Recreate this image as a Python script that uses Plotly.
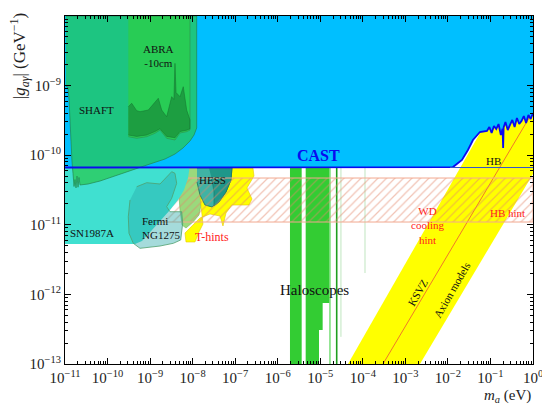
import numpy as np
import plotly.graph_objects as go

# all values are log10(m_a / eV) and log10(|g| / GeV^-1)

cast_lm = [-11.0, -1.95, -1.881, -1.670, -1.529, -1.411, -1.247, -1.082, -1.026, -0.972,
           -0.918, -0.864, -0.810, -0.756, -0.715, -0.702, -0.690, -0.648, -0.594, -0.540,
           -0.486, -0.432, -0.378, -0.324, -0.270, -0.216, -0.162, -0.108, -0.054, 0.0]
cast_lg = [-10.177, -10.177, -10.17, -10.069, -9.925, -9.782, -9.667, -9.652, -9.595, -9.681,
           -9.580, -9.624, -9.552, -9.710, -9.62, -9.897, -9.60, -9.523, -9.638, -9.566,
           -9.494, -9.595, -9.466, -9.552, -9.509, -9.437, -9.537, -9.422, -9.480, -9.394]

band_lm = [-4.349, -2.657, 0.0, 0.0, -0.800]
band_lg = [-13.0, -13.0, -10.270, -9.207, -9.207]
ksvz_lm = [-3.526, 0.0]
ksvz_lg = [-13.0, -9.37]

halo1_lm = [-5.712, -5.437, -5.437, -5.712]
halo1_lg = [-10.1, -10.1, -13.0, -13.0]
halo2_lm = [-5.343, -4.788, -4.788, -4.944, -4.944, -5.030, -5.030, -5.343]
halo2_lg = [-10.1, -10.1, -12.124, -12.124, -12.511, -12.511, -13.0, -13.0]
halo_line_lm = [-4.772, -4.614, -4.514, -3.949]
halo_line_low = [-13.0, -13.0, -12.61, -11.693]

sn_lm = [-11.0, -11.0, -9.355, -9.190, -8.955, -8.720, -8.532, -8.344, -8.203, -8.109, -8.062, -8.062]
sn_lg = [-9.925, -11.276, -11.276, -11.233, -11.075, -10.917, -10.787, -10.644, -10.500, -10.328, -10.141, -9.925]

fermi_lm = [-9.315, -9.080, -8.767, -8.610, -8.492, -8.415, -8.375, -8.492, -8.610, -8.532,
            -8.257, -8.234, -8.281, -8.455, -8.767, -9.237, -9.395, -9.496, -9.512, -9.472]
fermi_lg = [-10.453, -10.395, -10.414, -10.318, -10.237, -10.260, -10.404, -10.619, -10.740, -10.812,
            -10.812, -10.978, -11.218, -11.266, -11.305, -11.338, -11.266, -11.122, -10.884, -10.644]

ghint_lm = [-8.297, -7.827, -7.804, -7.804, -7.851, -7.992, -8.156, -8.250, -8.297, -8.321]
ghint_lg = [-10.184, -10.184, -10.500, -10.716, -10.859, -10.960, -11.046, -11.003, -10.787, -10.572]

tsmall_lm = [-8.368, -8.321, -8.344, -8.462, -8.603, -8.626, -8.532, -8.438]
tsmall_lg = [-10.342, -10.428, -10.601, -10.716, -10.787, -10.701, -10.529, -10.399]

thint_lm = [-7.874, -6.582, -6.558, -6.723, -6.605, -6.676, -7.075, -7.216, -7.287, -7.357,
            -7.592, -7.827, -8.015, -8.180, -8.156, -7.945, -7.851, -7.757, -7.804, -7.851]
thint_lg = [-10.184, -10.184, -10.299, -10.471, -10.629, -10.716, -10.716, -10.830, -11.017, -10.874,
            -10.845, -10.902, -11.017, -11.118, -11.247, -11.247, -11.103, -10.989, -10.716, -10.428]

hess_lm = [-7.898, -7.075, -7.099, -7.216, -7.381, -7.545, -7.710, -7.827, -7.898]
hess_lg = [-10.184, -10.184, -10.356, -10.529, -10.672, -10.744, -10.716, -10.572, -10.385]
hess2_lm = [-7.616, -7.075, -7.099, -7.216, -7.381, -7.498, -7.498, -7.545]
hess2_lg = [-10.184, -10.184, -10.356, -10.529, -10.672, -10.730, -10.529, -10.356]

hint_lm = [-8.838, 0.0, 0.0, -8.838]
hint_lg = [-10.328, -10.328, -10.960, -10.960]

shaft_lm = [-10.98, -7.905, -7.905, -7.968, -8.062, -8.227, -8.415, -8.650, -9.002, -9.355,
            -9.754, -10.177, -10.459, -10.600, -10.647, -10.671, -10.694, -10.718, -10.741, -10.765,
            -10.788, -10.812, -10.835, -10.859, -10.882, -10.905, -10.929, -10.98]
shaft_lg = [-8.0, -8.0, -9.609, -9.710, -9.796, -9.897, -9.983, -10.055, -10.126, -10.198,
            -10.284, -10.371, -10.414, -10.43, -10.428, -10.32, -10.46, -10.30, -10.47, -10.35,
            -10.45, -10.26, -10.10, -9.80, -9.45, -9.20, -9.03, -9.0]

abra_lm = [-9.512, -8.062, -8.062, -8.140, -8.297, -8.415, -8.610, -8.767, -8.885, -9.080, -9.315, -9.512]
abra_lg = [-8.0, -8.0, -9.638, -9.662, -9.681, -9.782, -9.757, -9.638, -9.685, -9.734, -9.757, -9.734]

dark_lm = [-9.512, -9.432, -9.315, -9.237, -9.042, -8.885, -8.807, -8.727, -8.610, -8.492,
           -8.44, -8.415, -8.39, -8.297, -8.220, -8.140, -8.062, -8.062, -8.140, -8.297,
           -8.415, -8.610, -8.767, -8.885, -9.080, -9.315, -9.512]
dark_lg = [-9.303, -9.254, -9.36, -9.375, -9.351, -9.231, -9.182, -9.351, -9.447, -9.159,
           -9.2, -8.680, -9.1, -9.159, -9.016, -9.351, -9.494, -9.62, -9.64, -9.66,
           -9.75, -9.73, -9.62, -9.66, -9.71, -9.73, -9.71]

hb_lm = [-1.95, 0.0]
hb_lg = [-10.177, -10.177]

tick_exp = [-11, -10, -9, -8, -7, -6, -5, -4, -3, -2, -1, 0]
ytick_exp = [-13, -12, -11, -10, -9, -8]

SERIF = "Liberation Serif"
fig = go.Figure()


def p10(a):
    return np.power(10.0, np.array(a, dtype=float))


def poly(lm, lg, fill, line_color=None, width=0, **kw):
    fig.add_trace(go.Scatter(
        x=p10(lm), y=p10(lg), mode="lines", fill="toself", fillcolor=fill,
        line=dict(color=line_color or "rgba(0,0,0,0)", width=width),
        hoverinfo="skip", showlegend=False, **kw))


def line(lm, lg, color, width):
    fig.add_trace(go.Scatter(x=p10(lm), y=p10(lg), mode="lines",
                             line=dict(color=color, width=width),
                             hoverinfo="skip", showlegend=False))


# axion model band + KSVZ
poly(band_lm, band_lg, "#ffff00")
line(ksvz_lm, ksvz_lg, "#f07a28", 1)

# haloscopes
poly(halo1_lm, halo1_lg, "#33cc33")
poly(halo2_lm, halo2_lg, "#33cc33")
halo_cols = ["#33cc33", "#1e9e1e", "#b0dfb0", "#b0dfb0"]
halo_w = [1, 1.6, 0.8, 0.8]
for m, lo, c, w in zip(halo_line_lm, halo_line_low, halo_cols, halo_w):
    line([m, m], [-10.1, lo], c, w)

# astrophysical hints
poly(ghint_lm, ghint_lg, "#9bd97c", "#6fb85a", 0.6)
poly(tsmall_lm, tsmall_lg, "#ffff00", "#5aa65a", 0.6)
poly(thint_lm, thint_lg, "#ffff00", "#e8c800", 0.6)
poly(hess_lm, hess_lg, "#3fb3a5", "#1b6e62", 0.8)
poly(hess2_lm, hess2_lg, "#1f978a", "#1b6e62", 0.6)

# WD / HB cooling hint (hatched)
poly(hint_lm, hint_lg, "rgba(255,170,150,0.10)", "#f2a890", 1,
     fillpattern=dict(shape="/", fgcolor="#e3866a", bgcolor="rgba(0,0,0,0)",
                      size=6, solidity=0.2, fillmode="overlay"))

# SN1987A and Fermi
poly(sn_lm, sn_lg, "#40e0d0")
poly(fermi_lm, fermi_lg, "rgba(40,170,170,0.42)", "#4f9f6f", 0.8)

# CAST
poly(cast_lm + [0.0, -11.0], cast_lg + [-8.0, -8.0], "#00bfff")

# SHAFT / ABRA
poly(shaft_lm, shaft_lg, "rgba(40,200,80,0.72)", "#23874d", 0.7)
poly(abra_lm, abra_lg, "rgba(50,210,50,0.55)", "#2d8f4e", 0.6)
poly(dark_lm, dark_lg, "rgba(20,120,50,0.55)", "rgba(20,110,45,0.8)", 0.6)

line(cast_lm, cast_lg, "#0a0af0", 1.8)
line(hb_lm, hb_lg, "#3355cc", 1)

labels = [
    ("SHAFT", -10.271, -9.351, "#111111", 11, 0),
    ("ABRA<br>-10cm", -8.814, -8.575, "#111111", 11, 0),
    ("<b>CAST</b>", -5.031, -10.011, "#0a0af0", 16, 0),
    ("HESS", -7.522, -10.356, "#111111", 11, 0),
    ("SN1987A", -10.365, -11.118, "#111111", 11, 0),
    ("T-hints", -7.545, -11.175, "#ff2020", 12, 0),
    ("HB", -0.918, -10.083, "#111111", 11, 0),
    ("WD<br>cooling<br>hint", -2.469, -11.017, "#ff2020", 11, 0),
    ("HB hint", -0.589, -10.830, "#ff2020", 11, 0),
    ("Haloscopes", -5.125, -11.937, "#111111", 15, 0),
    ("KSVZ", -2.704, -11.966, "#111111", 11, -60),
    ("Axion models", -1.905, -11.937, "#111111", 11, -60),
]
for txt, x, y, col, sz, ang in labels:
    fig.add_annotation(x=x, y=y, text=txt, showarrow=False, textangle=ang,
                       font=dict(family=SERIF, size=sz, color=col), align="center")

fig.add_annotation(x=-9.237, y=-11.046, text="Fermi<br>NG1275", showarrow=False,
                   xanchor="left", align="left", font=dict(family=SERIF, size=11, color="#111111"))

fig.add_annotation(xref="paper", yref="paper", x=-0.098, y=0.885,
                   xanchor="center", yanchor="middle",
                   text="|<i>g</i><sub><i>aγ</i></sub>| (GeV<sup>−1</sup>)",
                   textangle=-90, showarrow=False, font=dict(family=SERIF, size=17, color="#222"))
fig.add_annotation(xref="paper", yref="paper", x=1.0, y=-0.092, xanchor="right",
                   yanchor="middle",
                   text="<i>m</i><sub><i>a</i></sub> (eV)", showarrow=False,
                   font=dict(family=SERIF, size=15, color="#222"))

axis_common = dict(type="log", showgrid=False, zeroline=False, showline=True,
                   linecolor="black", linewidth=1, mirror="allticks", automargin=False,
                   ticks="inside", ticklen=6, tickcolor="black",
                   minor=dict(ticks="inside", ticklen=3, tickcolor="black", dtick="D1"),
                   tickfont=dict(family=SERIF, size=15, color="#222"))

# the page body adds an 8px offset, so margins are shifted to keep the plot box in place
fig.update_layout(
    width=550, height=405,
    margin=dict(l=57, r=25, t=8, b=49),
    paper_bgcolor="white", plot_bgcolor="white",
    xaxis=dict(range=[-11, 0], tickvals=[10.0 ** e for e in tick_exp],
               ticktext=["10<sup>%s</sup>" % str(e).replace("-", "−") for e in tick_exp],
               **axis_common),
    yaxis=dict(range=[-13, -8], tickvals=[10.0 ** e for e in ytick_exp],
               ticktext=["10<sup>%s</sup>" % str(e).replace("-", "−") for e in ytick_exp],
               **axis_common),
)

fig.write_html("out.html")
